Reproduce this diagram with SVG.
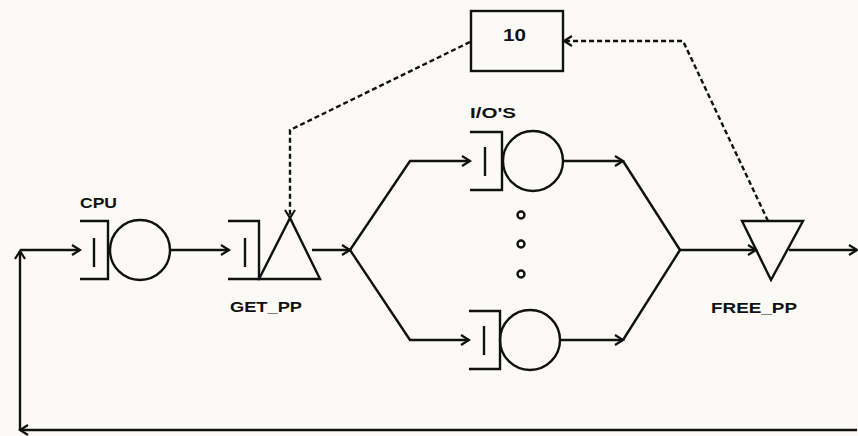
<svg xmlns="http://www.w3.org/2000/svg" width="858" height="436" viewBox="0 0 858 436">
<defs>
<marker id="arr" markerUnits="userSpaceOnUse" markerWidth="12" markerHeight="12" refX="9" refY="5" orient="auto" overflow="visible">
<path d="M1,0 L9,5 L1,10" fill="none" stroke="#111" stroke-width="2.2"/>
</marker>
<style>
.s{fill:none;stroke:#111;stroke-width:2.4;stroke-linejoin:miter}
.d{fill:none;stroke:#111;stroke-width:2.4;stroke-dasharray:5 3}
.t{font-family:"Liberation Sans",Arial,sans-serif;font-weight:bold;fill:#111}
</style>
</defs>
<rect width="858" height="436" fill="#fbfaf6"/>
<g id="connectors">
<path class="s" d="M857,430 L20,430" marker-end="url(#arr)"/>
<path class="s" d="M20,430 L20,251" marker-end="url(#arr)"/>
<path class="s" d="M20,250 L80,250" marker-end="url(#arr)"/>
<path class="s" d="M170,250 L229,250" marker-end="url(#arr)"/>
<path class="s" d="M312,250 L350,250" marker-end="url(#arr)"/>
<path class="s" d="M350,250 L410,161 L470,161" marker-end="url(#arr)"/>
<path class="s" d="M350,250 L410,340 L469,340" marker-end="url(#arr)"/>
<path class="s" d="M563,161 L623,161" marker-end="url(#arr)"/>
<path class="s" d="M623,161 L680,250"/>
<path class="s" d="M560,340 L623,340" marker-end="url(#arr)"/>
<path class="s" d="M623,340 L680,250"/>
<path class="s" d="M680,250 L756,250" marker-end="url(#arr)"/>
<path class="s" d="M789,250 L857,250" marker-end="url(#arr)"/>
<path class="d" d="M470,42 L290,130 L290,218" marker-end="url(#arr)"/>
<path class="d" d="M768,221 L683,41 L564,41" marker-end="url(#arr)"/>
</g>
<g id="cpu">
<path class="s" d="M80,221 L108,221 L108,279 L80,279 M94,238 V267"/>
<circle class="s" cx="140" cy="250" r="30"/>
<text class="t" x="80" y="208" font-size="15" textLength="37" lengthAdjust="spacingAndGlyphs">CPU</text>
</g>
<g id="get_pp">
<path class="s" d="M228,221 L259,221 L259,279 L228,279 M245,238 V267"/>
<path class="s" d="M259,279 L290,218 L320,279 Z"/>
<text class="t" x="230" y="312" font-size="15" textLength="72" lengthAdjust="spacingAndGlyphs">GET_PP</text>
</g>
<g id="box10">
<rect class="s" x="471" y="11" width="92" height="60"/>
<text class="t" x="503" y="41" font-size="17" textLength="23" lengthAdjust="spacingAndGlyphs">10</text>
</g>
<g id="io_upper">
<path class="s" d="M470,132 L502,132 L502,190 L470,190 M485,147 V176"/>
<circle class="s" cx="533" cy="161" r="30"/>
<text class="t" x="470" y="118" font-size="15" textLength="46" lengthAdjust="spacingAndGlyphs">I/O'S</text>
</g>
<g id="dots">
<circle class="s" cx="521" cy="215" r="3.5" stroke-width="2"/>
<circle class="s" cx="521" cy="244" r="3.5" stroke-width="2"/>
<circle class="s" cx="521" cy="274" r="3.5" stroke-width="2"/>
</g>
<g id="io_lower">
<path class="s" d="M469,311 L500,311 L500,369 L469,369 M484,326 V355"/>
<circle class="s" cx="530" cy="340" r="30"/>
</g>
<g id="free_pp">
<path class="s" d="M742,221 L803,221 L771,280 Z"/>
<text class="t" x="711" y="313" font-size="15" textLength="86" lengthAdjust="spacingAndGlyphs">FREE_PP</text>
</g>
</svg>
